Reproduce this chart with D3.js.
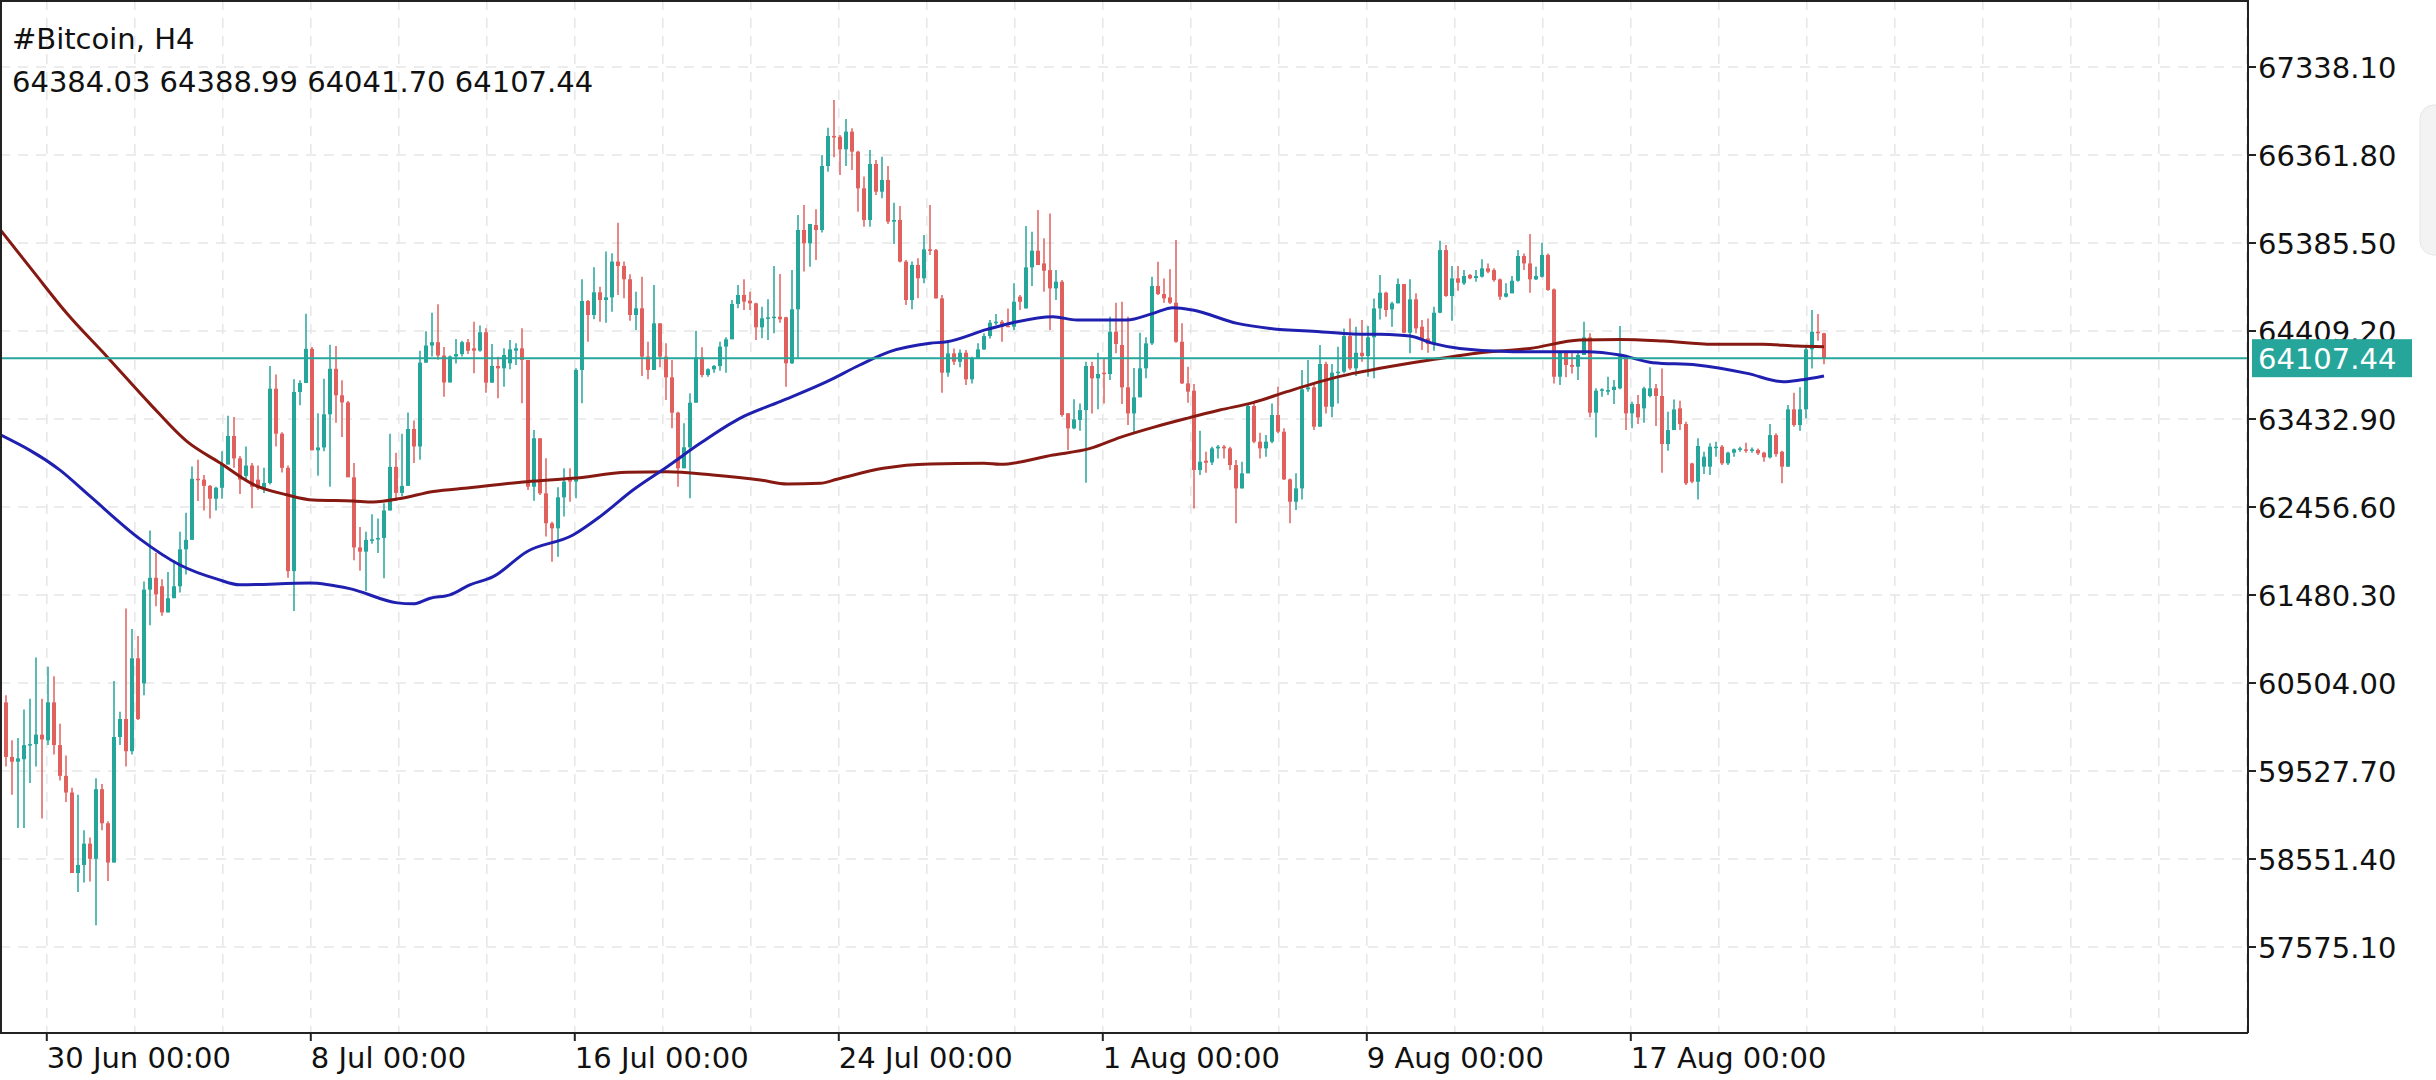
<!DOCTYPE html>
<html><head><meta charset="utf-8">
<script src="https://cdn.jsdelivr.net/npm/d3@7"></script>
<style>body{margin:0;background:#fff;overflow:hidden}svg{display:block}</style>
</head><body><svg id="c" width="2436" height="1080"></svg>
<script>
const title = "#Bitcoin, H4";
const lastOHLC = "64384.03 64388.99 64041.70 64107.44";
const lastPrice = 64107.44;
const yTicks = [67338.10,66361.80,65385.50,64409.20,63432.90,62456.60,61480.30,60504.00,59527.70,58551.40,57575.10];
const xLabels = ["30 Jun 00:00","8 Jul 00:00","16 Jul 00:00","24 Jul 00:00","1 Aug 00:00","9 Aug 00:00","17 Aug 00:00"];
const xLabelIdx = [6.8,50.8,94.8,138.8,182.8,226.8,270.8];
// [open, high, low, close]
const candles = [
[60289,60368,59579,59684],[59684,59868,59264,59631],[59631,59894,58895,59668],[59658,60210,58895,59815],[59815,60330,59395,59826],
[59826,60788,59579,59931],[59931,60330,59000,59878],[59868,60683,59815,60289],[60289,60578,59710,59815],[59815,60052,59421,59474],
[59474,59700,59185,59289],[59289,59342,58396,58396],[58396,59264,58185,58485],[58485,58869,58290,58722],[58722,58790,58301,58554],
[58554,59447,57817,59326],[59326,59384,58869,58948],[58948,58970,58306,58512],[58512,60525,58512,59905],[59905,60184,59815,60105],
[60105,61330,59579,59747],[59747,61103,59710,60778],[60778,61025,60094,60105],[60499,61629,60368,61540],[61540,62197,61146,61671],
[61671,61945,61356,61487],[61577,61656,61251,61287],[61287,61735,61287,61445],[61445,61866,61445,61577],[61577,62181,61508,61987],
[61987,62392,61708,62092],[62092,62907,62092,62770],[62770,62981,62523,62760],[62760,62812,62418,62691],[62691,62702,62329,62549],
[62549,62681,62418,62670],[62670,63075,62549,62928],[62928,63470,62928,63244],[63244,63454,62891,62996],[62996,63022,62602,62760],
[62802,63128,62760,62917],[62917,62944,62444,62681],[62760,62917,62644,62665],[62665,62891,62613,62723],[62723,64022,62707,63769],
[63769,63927,63128,63270],[63270,63286,62839,62891],[62891,62917,61671,61745],[61745,63874,61303,63733],[63733,63864,63585,63832],
[63832,64600,63832,64211],[64211,64232,63086,63086],[63086,63496,62802,63117],[63117,63880,63075,63485],[63485,64258,62681,63990],
[63990,64243,63391,63696],[63696,63864,63233,63617],[63617,63633,62786,62786],[62786,62944,61866,62008],[62008,62234,61750,61961],
[61961,62181,61524,62092],[62092,62376,62050,62097],[62097,62329,61945,62113],[62113,62497,61666,62418],[62418,63270,62418,62902],
[62902,63059,62523,62613],[62613,63270,62576,62691],[62691,63506,62691,63322],[63322,63417,62944,63128],[63128,64190,62981,64058],
[64058,64406,64058,64248],[64248,64611,64127,64285],[64285,64705,64090,64137],[64137,64232,63680,63838],[63838,64137,63838,64127],
[64127,64321,64048,64153],[64153,64300,64127,64285],[64285,64321,64153,64190],[64217,64513,63940,64191],[64191,64469,64180,64395],
[64395,64439,63725,63836],[63836,64265,63836,64021],[64021,64124,63662,63995],[63995,64217,63792,64143],[64051,64310,63984,64206],
[64191,64273,64032,64217],[64217,64439,63607,64088],[64088,64088,62645,62682],[62682,63311,62527,63219],[63219,63219,62590,62608],
[62608,62997,62128,62276],[62276,62294,61850,62220],[62220,62675,61906,62564],[62564,62886,62350,62738],[62786,62886,62516,62738],
[62738,63995,62553,63977],[63977,64983,63607,64742],[64742,64753,64291,64587],[64587,65116,64539,64838],[64838,64901,64513,64753],
[64753,65290,64502,64783],[64783,65271,64624,65179],[65179,65611,64809,65131],[65131,65179,64772,64983],[64983,65038,64524,64587],
[64587,64846,64420,64661],[64661,65012,63910,64125],[64125,64291,63873,63977],[63977,64920,63977,64494],[64494,64494,64006,64125],
[64125,64273,63644,63895],[63895,64088,63330,63503],[63503,63514,62682,62886],[62886,63385,62886,63119],[63119,63718,62553,63614],
[63614,64413,63614,64117],[64117,64228,63895,63921],[63921,63995,63903,63984],[63984,64032,63947,64021],[64021,64291,63969,64236],
[64236,64339,63947,64317],[64317,64753,64317,64709],[64709,64920,64661,64809],[64809,64983,64642,64735],[64746,64846,64642,64716],
[64716,64724,64310,64450],[64450,64679,64328,64550],[64550,64761,64310,64561],[64561,65131,64383,64568],[64568,65042,64502,64539],
[64561,64568,63792,64051],[64051,65086,64043,64650],[64650,65696,64106,65530],[65530,65807,65068,65382],[65382,65597,65123,65597],
[65585,65759,65197,65530],[65530,66362,65501,66240],[66240,66665,66177,66573],[66573,66972,66336,66558],[66565,66584,66140,66425],
[66425,66761,66240,66621],[66621,66658,66196,66399],[66399,66410,65733,65992],[65992,66122,65567,65641],[65641,66417,65567,66262],
[66262,66307,65918,65955],[65955,66343,65881,66085],[66085,66240,65597,65622],[65622,65833,65375,65641],[65641,65796,65168,65179],
[65179,65197,64698,64753],[64753,65179,64650,65142],[65142,65216,64772,64994],[64994,65474,64938,65315],[65315,65807,65252,65307],
[65307,65320,64771,64771],[64771,64808,63725,63947],[63947,64290,63902,64161],[64161,64216,64032,64069],[64069,64205,64006,64168],
[64168,64198,63810,63873],[63873,64124,63828,64106],[64106,64272,64106,64205],[64205,64383,64198,64353],[64353,64531,64327,64501],
[64501,64597,64476,64512],[64512,64531,64290,64457],[64468,64660,64450,64457],[64457,64938,64420,64734],[64790,64808,64642,64734],
[64660,65574,64660,65115],[65115,65511,64908,65300],[65300,65751,65141,65141],[65159,65437,64845,65078],[65085,65714,64420,64882],
[64882,65085,64753,64956],[64956,64974,63459,63477],[63496,63496,63089,63329],[63329,63651,63318,63429],[63422,63606,63303,63532],
[63532,64069,62726,64021],[64021,64069,63495,63884],[63884,64168,63540,63932],[63947,64106,63606,63932],[63932,64568,63865,64401],
[64401,64723,64161,64265],[64254,64734,63599,63784],[63784,64568,63366,63495],[63495,64000,63281,63673],[63673,64390,63673,63995],
[63995,64339,63884,64272],[64272,65012,64253,64908],[64908,65178,64808,64819],[64819,64993,64723,64771],[64782,65093,64708,64723],
[64723,65418,64279,64290],[64290,64494,63821,63828],[63828,64013,63614,63736],[63747,63821,62441,62867],[62867,63303,62811,62959],
[62970,63070,62837,62948],[62951,63126,62922,63107],[63107,63144,62996,63126],[63126,63144,62996,63107],[63107,63126,62867,62922],
[62922,62978,62275,62663],[62663,62959,62663,62830],[62830,63599,62830,63577],[63577,63625,63163,63181],[63181,63281,62996,63107],
[63107,63255,63015,63181],[63181,63606,63163,63477],[63477,63791,63274,63292],[63292,63329,62756,62763],[62763,62774,62275,62515],
[62515,62830,62423,62663],[62663,63976,62541,63762],[63762,64087,63736,63784],[63784,63821,63311,63348],[63348,64254,63348,64043],
[64043,64069,63495,63569],[63569,64043,63451,63947],[63947,64235,63606,63958],[63958,64438,63940,64353],[64353,64549,63976,63995],
[63995,64457,63910,64168],[64168,64531,64069,64132],[64132,64464,63902,64339],[64339,64771,63884,64660],[64660,65030,64538,64834],
[64834,64845,64568,64642],[64649,64735,64457,64716],[64716,64993,64716,64930],[64930,64930,64383,64390],[64390,64982,64161,64760],
[64760,64827,64383,64438],[64457,64531,64198,64309],[64327,64549,64168,64264],[64264,64679,64190,64612],[64612,65411,64605,65307],
[65307,65363,64790,64797],[64797,65130,64523,64993],[64993,65130,64856,64945],[64938,65085,64919,65019],[65030,65041,64982,64993],
[64997,65085,64956,65019],[65012,65204,65004,65104],[65104,65159,65049,65067],[65085,65104,64956,64974],[64982,64993,64753,64790],
[64790,64938,64782,64827],[64827,65019,64827,64967],[64967,65307,64956,65241],[65241,65270,65085,65159],[65159,65485,64834,64982],
[64982,65122,64974,65019],[65012,65389,65004,65252],[65252,65270,64856,64864],[64871,64882,63828,63902],[63902,64180,63810,64168],
[64168,64180,63895,64032],[64032,64161,63939,64013],[64013,64180,63865,64143],[64143,64512,64143,64338],[64338,64383,63451,63503],
[63503,63773,63229,63747],[63747,63773,63680,63762],[63736,63902,63699,63754],[63754,63865,63599,63791],[63773,64464,63762,64143],
[64124,64143,63311,63495],[63495,63625,63329,63599],[63599,63699,63377,63451],[63551,63791,63392,63773],[63688,64006,63673,63773],
[63773,63821,63355,63688],[63688,63994,62837,63155],[63155,63514,63081,63310],[63310,63650,63310,63539],[63551,63636,63311,63377],
[63377,63403,62700,62719],[62940,62948,62719,62737],[62737,63218,62541,63133],[62904,63070,62822,63015],[62904,63163,62811,63126],
[63110,63181,63015,63126],[63126,63144,62922,62941],[62941,63070,62922,63059],[63059,63107,63015,63096],[63096,63126,63070,63107],
[63096,63170,63059,63081],[63081,63118,63059,63096],[63089,63107,63033,63052],[63059,63070,62959,63007],[63007,63377,62996,63255],
[63255,63274,63015,63044],[63070,63081,62719,62904],[62904,63588,62904,63540],[63540,63725,63348,63366],[63366,63784,63303,63540],
[63540,64235,63440,64205],[64205,64642,63994,64401],[64401,64597,64301,64390],[64384.03,64388.99,64041.70,64107.44]
];
// moving averages: [bar index, value]
const maBlue = [[-1,63259],[9,62865],[14,62576],[22.3,62103],[29,61813],[35.2,61656],[39,61593],[50.7,61614],[57.3,61551],[65.2,61393],[67.8,61382],[70.7,61445],[74,61482],[77.3,61593],[81.2,61684],[86.8,61961],[94.5,62146],[99,62350],[104.5,62646],[110.2,62904],[115.7,63163],[122.3,63440],[129,63625],[136.8,63847],[142.3,64032],[147.3,64180],[154,64273],[156.8,64290],[163.5,64427],[167.8,64501],[174.5,64568],[178.5,64531],[186.8,64531],[191.2,64605],[194.5,64668],[197.8,64642],[205.2,64494],[210.7,64438],[219,64401],[224.5,64376],[229,64372],[234,64353],[237.8,64272],[242.3,64216],[251.2,64180],[263.5,64180],[269,64143],[274.5,64057],[281.8,64032],[290.2,63939],[296.2,63847],[299,63865],[303,63910]];
const maRed = [[-1,65536],[4.5,65073],[10.2,64600],[16.8,64127],[24,63601],[30.2,63181],[35.7,62944],[41.2,62707],[46.8,62592],[51.2,62534],[57.8,62523],[61.2,62513],[65.7,62550],[71.2,62629],[77.3,62670],[86.8,62738],[94.5,62775],[103.5,62841],[110.2,62849],[117.8,62812],[125.7,62756],[130.2,62712],[135.7,62720],[138.5,62764],[146.2,62886],[154,62934],[163,62941],[165.7,62930],[174.5,63033],[180.7,63107],[185.7,63229],[191.2,63340],[196.8,63440],[202.3,63532],[207.8,63614],[213.5,63736],[219,63847],[224.5,63939],[229,63995],[237.3,64087],[245.7,64168],[254,64216],[262.3,64309],[269,64316],[276.2,64298],[284.5,64261],[292.8,64261],[298.5,64242],[303,64235]];

const svg = d3.select("#c");
const W = 2436, plotR = 2248, plotB = 1033;
const y = d3.scaleLinear().domain([57575.1, 67338.1]).range([947, 67]);
const x = d3.scaleLinear().domain([0, candles.length - 1]).range([6, 1824]);
const UP = "#26a69a", DN = "#e0605e";
const font = "'DejaVu Sans', sans-serif";

svg.append("rect").attr("width", W).attr("height", 1080).attr("fill", "#fff");
const g = svg.append("g");
const gridStep = 44 / 3;
const vIdx = d3.range(-3, 30).map(k => xLabelIdx[0] + k * gridStep).filter(v => x(v) > 2 && x(v) < plotR);
g.selectAll(".vg").data(vIdx).join("line").attr("x1", d => x(d)).attr("x2", d => x(d))
  .attr("y1", 0).attr("y2", plotB).attr("stroke", "#e6e6e6").attr("stroke-width", 1.5).attr("stroke-dasharray", "10,8");
g.selectAll(".hg").data(yTicks).join("line").attr("x1", 0).attr("x2", plotR)
  .attr("y1", d => y(d)).attr("y2", d => y(d)).attr("stroke", "#e6e6e6").attr("stroke-width", 1.5).attr("stroke-dasharray", "10,8");

const cg = g.append("g");
cg.selectAll("line").data(candles).join("line")
  .attr("x1", (d, i) => x(i)).attr("x2", (d, i) => x(i))
  .attr("y1", d => y(d[1])).attr("y2", d => y(d[2]))
  .attr("stroke", d => d[3] >= d[0] ? UP : DN).attr("stroke-width", 1.5);
cg.selectAll("rect").data(candles).join("rect")
  .attr("x", (d, i) => x(i) - 2).attr("width", 4)
  .attr("y", d => y(Math.max(d[0], d[3])))
  .attr("height", d => Math.max(1.5, Math.abs(y(d[0]) - y(d[3]))))
  .attr("fill", d => d[3] >= d[0] ? UP : DN);

const line = d3.line().x(d => x(d[0])).y(d => y(d[1])).curve(d3.curveMonotoneX);
g.append("path").datum(maRed).attr("d", line).attr("fill", "none").attr("stroke", "#861a12").attr("stroke-width", 3);
g.append("path").datum(maBlue).attr("d", line).attr("fill", "none").attr("stroke", "#2020b0").attr("stroke-width", 3);

g.append("line").attr("x1", 0).attr("x2", plotR).attr("y1", y(lastPrice)).attr("y2", y(lastPrice))
  .attr("stroke", UP).attr("stroke-width", 2);

svg.append("line").attr("x1", 1).attr("x2", 1).attr("y1", 0).attr("y2", plotB).attr("stroke", "#222").attr("stroke-width", 2);
svg.append("line").attr("x1", 0).attr("x2", plotR).attr("y1", 1).attr("y2", 1).attr("stroke", "#222").attr("stroke-width", 2);
svg.append("line").attr("x1", plotR).attr("x2", plotR).attr("y1", 0).attr("y2", plotB).attr("stroke", "#222").attr("stroke-width", 2);
svg.append("line").attr("x1", 0).attr("x2", plotR).attr("y1", plotB).attr("y2", plotB).attr("stroke", "#222").attr("stroke-width", 2);

svg.selectAll(".yt").data(yTicks).join("line").attr("x1", plotR).attr("x2", plotR + 8)
  .attr("y1", d => y(d)).attr("y2", d => y(d)).attr("stroke", "#222").attr("stroke-width", 2);
svg.selectAll(".yl").data(yTicks).join("text").attr("x", plotR + 10).attr("y", d => y(d) + 11)
  .attr("font-family", font).attr("font-size", 29).attr("fill", "#111").text(d => d.toFixed(2));

svg.selectAll(".xt").data(xLabelIdx).join("line").attr("x1", d => x(d)).attr("x2", d => x(d))
  .attr("y1", plotB).attr("y2", plotB + 8).attr("stroke", "#222").attr("stroke-width", 2);
svg.selectAll(".xl").data(xLabels).join("text").attr("x", (d, i) => x(xLabelIdx[i]))
  .attr("y", 1068).attr("font-family", font).attr("font-size", 29).attr("fill", "#111").text(d => d);

svg.append("rect").attr("x", plotR + 4).attr("y", y(lastPrice) - 19).attr("width", 160).attr("height", 38).attr("fill", UP);
svg.append("text").attr("x", plotR + 10).attr("y", y(lastPrice) + 11).attr("font-family", font)
  .attr("font-size", 29).attr("fill", "#fff").text(lastPrice.toFixed(2));

svg.append("rect").attr("x", 2420).attr("y", 105).attr("width", 40).attr("height", 150).attr("rx", 14)
  .attr("fill", "#f3f3f3").attr("stroke", "#e6e6e6");

svg.append("text").attr("x", 12).attr("y", 49).attr("font-family", font).attr("font-size", 29).attr("fill", "#111").text(title);
svg.append("text").attr("x", 12).attr("y", 92).attr("font-family", font).attr("font-size", 29).attr("fill", "#111").text(lastOHLC);
</script></body></html>
